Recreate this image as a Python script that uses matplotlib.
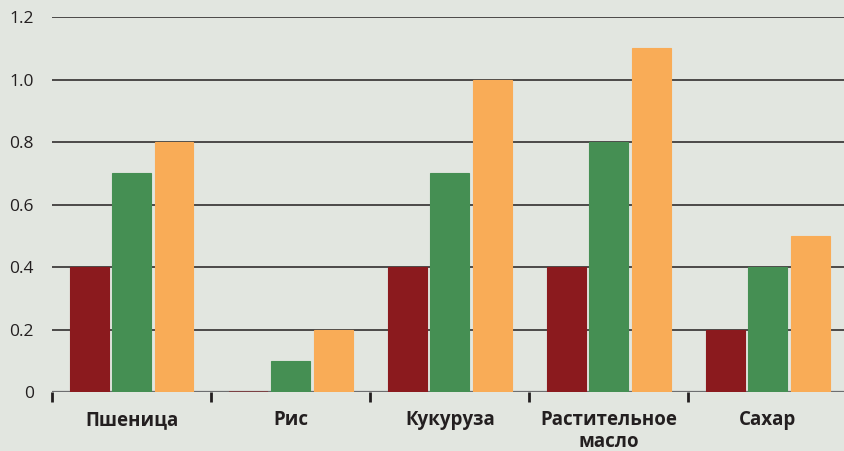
import numpy as np
import matplotlib.pyplot as plt
from matplotlib.ticker import FixedLocator

# data
categories = ['Пшеница', 'Рис', 'Кукуруза', 'Растительное\nмасло', 'Сахар']
series_red = [0.4, 0.0, 0.4, 0.4, 0.2]
series_green = [0.7, 0.1, 0.7, 0.8, 0.4]
series_orange = [0.8, 0.2, 1.0, 1.1, 0.5]
yticks = [0, 0.2, 0.4, 0.6, 0.8, 1.0, 1.2]
ytick_labels = ['0', '0.2', '0.4', '0.6', '0.8', '1.0', '1.2']

bg = '#e2e6e0'
colors = ['#8b1a1e', '#458f53', '#f9ac57']

plt.rcParams['font.family'] = ['Open Sans', 'DejaVu Sans']

fig = plt.figure(figsize=(8.45, 4.51), dpi=100, facecolor=bg)
ax = fig.add_axes([0.0615, 0.1308, 0.9385 + 0.003, 0.9623 - 0.1308])
ax.set_facecolor(bg)

x = np.arange(len(categories)) + 0.5
w = 0.245
step = 0.267
for off, vals, c in zip([-step, 0, step], [series_red, series_green, series_orange], colors):
    ax.bar(x + off, vals, width=w, color=c, edgecolor=c, linewidth=0.8, zorder=3)
    # zero-height bars still show as a thin line on the baseline
    for xi, v in zip(x + off, vals):
        if v == 0:
            ax.hlines(v, xi - w / 2, xi + w / 2, color=c, linewidth=1.2, alpha=0.6, zorder=3)

ax.set_xlim(0, len(categories))
ax.set_ylim(0, 1.2)

for v in yticks[1:]:
    ax.axhline(v, color='#231f20', linewidth=1.1, zorder=1)
ax.axhline(0, color='#6d6e70', linewidth=1.6, zorder=2)

for s in ax.spines.values():
    s.set_visible(False)

ax.set_yticks(yticks)
ax.set_yticklabels(ytick_labels, fontsize=12.5, color='#231f20')
ax.tick_params(axis='y', length=0, pad=13)

ax.set_xticks(x)
ax.set_xticklabels(categories, fontsize=13.5, fontweight='bold', color='#231f20', linespacing=1.15)
ax.xaxis.set_minor_locator(FixedLocator(np.arange(len(categories) + 1)))
ax.tick_params(axis='x', which='major', length=0, pad=13)
ax.tick_params(axis='x', which='minor', length=7, width=2, color='#231f20', direction='out')

fig.savefig('out.png', dpi=100, facecolor=bg)
